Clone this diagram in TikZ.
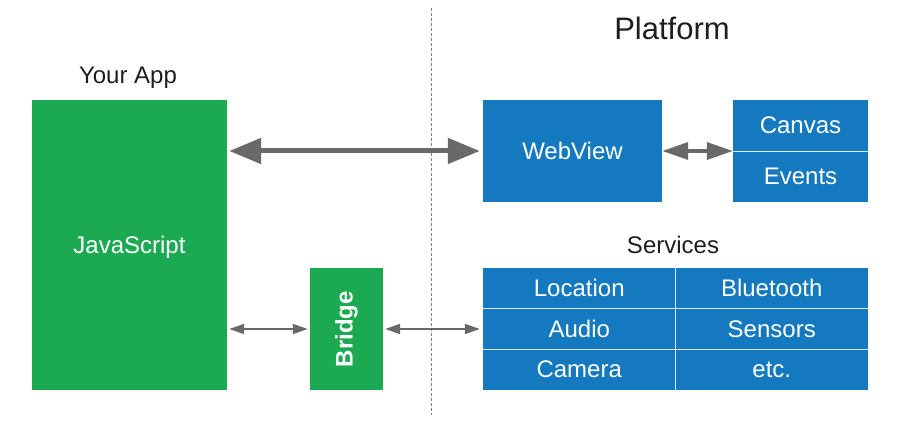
\documentclass[tikz,border=0pt]{standalone}
\usepackage{fontspec}
\setmainfont{Liberation Sans}
\usetikzlibrary{arrows.meta}
\definecolor{appgreen}{RGB}{27,170,82}
\definecolor{platblue}{RGB}{20,121,191}
\definecolor{arrgray}{RGB}{105,105,105}
\definecolor{labelc}{RGB}{30,30,30}
\begin{document}
\begin{tikzpicture}[x=1pt,y=-1pt,
  txt/.style={font=\fontsize{24}{28}\selectfont, text height=19.5pt, text depth=2.5pt},
  gbox/.style={fill=appgreen, draw=none, text=white, inner sep=0pt, txt},
  bbox/.style={fill=platblue, draw=none, text=white, inner sep=0pt, txt},
  cell/.style={fill=platblue, draw=none, text=white, inner sep=0pt,
     minimum width=192.5pt, minimum height=40.5pt, txt},
  lbl/.style={text=labelc, inner sep=0pt, font=\fontsize{24}{28}\selectfont},
  sep/.style={white!85!platblue, line width=1.3pt},
  bigarrow/.style={arrgray, line width=5pt, {Triangle[length=32pt,width=25pt]}-{Triangle[length=32pt,width=25pt]}},
  midarrow/.style={arrgray, line width=3.5pt, {Triangle[length=26pt,width=17pt]}-{Triangle[length=26pt,width=17pt]}},
  smallarrow/.style={arrgray, line width=1.8pt, {Triangle[length=15pt,width=10pt]}-{Triangle[length=15pt,width=10pt]}},
  divider/.style={gray, line width=0.9pt, dash pattern=on 3pt off 2pt}
]
\useasboundingbox (0,0) rectangle (916,430);

% labels
\node[lbl] (yourapp) at (128,78) {Your App};
\node[lbl, font=\fontsize{31}{36}\selectfont] (platform) at (672,28) {Platform};
\node[lbl] (services) at (673,245) {Services};

% divider
\coordinate (dtop) at (431,8);
\coordinate (dbot) at (431,415);
\draw[divider] (dtop) -- (dbot);

% app side
\node[gbox, minimum width=195pt, minimum height=290pt] (js) at (129.5,245) {JavaScript};
\node[gbox, minimum width=73pt, minimum height=122pt] (bridge) at (346.5,329) {};
\node[text=white, inner sep=0pt, rotate=90, font=\fontsize{24}{28}\selectfont\bfseries] (bridgetxt) at (bridge.center) {Bridge};

% platform side
\node[bbox, minimum width=179pt, minimum height=102pt] (webview) at (572.5,151) {WebView};
\node[cell, minimum width=135pt, minimum height=51pt] (canvas) at (800.5,125.5) {Canvas};
\node[cell, minimum width=135pt, minimum height=51pt] (events) at (800.5,176.5) {Events};
\draw[sep] (canvas.south west) -- (canvas.south east);

\node[cell] (location) at (579.25,288.25) {Location};
\node[cell] (bluetooth) at (771.75,288.25) {Bluetooth};
\node[cell] (audio) at (579.25,328.75) {Audio};
\node[cell] (sensors) at (771.75,328.75) {Sensors};
\node[cell] (camera) at (579.25,369.25) {Camera};
\node[cell] (etc) at (771.75,369.25) {etc.};
\draw[sep] (location.south west) -- (bluetooth.south east);
\draw[sep] (audio.south west) -- (sensors.south east);
\draw[sep] (location.north east) -- (camera.south east);

% arrows
\draw[bigarrow, shorten <=2pt, shorten >=3pt] (js.east |- webview.west) -- (webview.west);
\draw[midarrow] (webview.east) -- (webview.east -| canvas.west);
\draw[smallarrow, shorten <=2pt, shorten >=2pt] (js.east |- bridge.west) -- (bridge.west);
\draw[smallarrow, shorten <=2pt, shorten >=3pt] (bridge.east) -- (bridge.east -| audio.west);
\end{tikzpicture}
\end{document}
